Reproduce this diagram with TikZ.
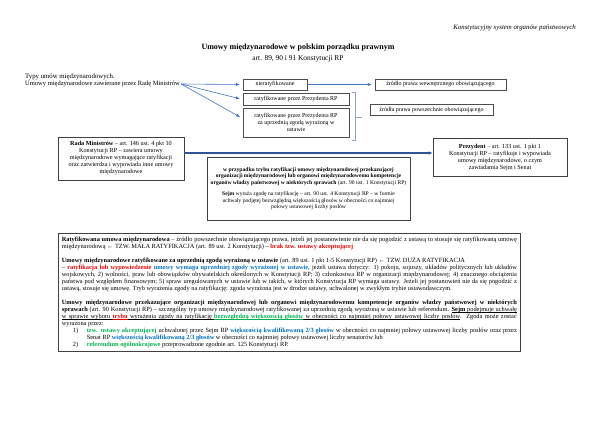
\documentclass[tikz,border=0pt]{standalone}
\usepackage{fontspec}
\setmainfont{Liberation Serif}
\usetikzlibrary{arrows.meta}
\definecolor{rd}{RGB}{230,0,0}
\definecolor{bl}{RGB}{0,112,192}
\definecolor{gr}{RGB}{0,176,80}
\definecolor{arrblue}{RGB}{68,114,196}
\definecolor{darkarr}{RGB}{47,85,151}
\definecolor{brk}{RGB}{150,165,190}
\newcommand{\fsz}[2]{\fontsize{#1}{#2}\selectfont}
\newcommand{\uw}[1]{\setbox0\hbox{#1}\rlap{\rule[-0.9pt]{\wd0}{0.3pt}}\box0}
\newcommand{\us}{\leaders\hrule height -0.6pt depth 0.9pt\hskip 0.25em plus 0.12em minus 0.06em\relax}
\def\ulw#1{\ulx#1 \ulend}
\def\ulx#1 #2\ulend{\uw{#1}\ifx\relax#2\relax\else\us\ulx#2\ulend\fi}
\begin{document}
\begin{tikzpicture}[x=1pt,y=-1pt,
  box/.style={draw=black!70, line width=0.5pt, inner sep=1.5pt, fill=white, align=center, font=\fsz{6}{6.8}},
  shbox/.style={box, draw=black!75, line width=0.7pt, font=\fsz{6.2}{7}},
  arr/.style={draw=arrblue, line width=0.6pt, -{Latex[length=4pt,width=3.2pt]}, shorten >=3pt},
  thickarr/.style={draw=darkarr, line width=1.2pt, -{Latex[length=4pt,width=3.5pt]}},
  plain/.style={inner sep=0pt}]
\useasboundingbox[fill=white] (0,0) rectangle (600,424);

\node[plain, anchor=east, font=\fsz{6.8}{8}\itshape] (hdr) at (576,28) {Konstytucyjny system organów państwowych};
\node[plain, font=\fsz{8}{9}\bfseries] (title) at (298,48) {Umowy międzynarodowe w polskim porządku prawnym};
\node[plain, font=\fsz{7.4}{9}] (sub) at (298,59) {art. 89, 90 i 91 Konstytucji RP};

\node[plain, anchor=west, font=\fsz{6.8}{8}] (types) at (25,77) {Typy umów międzynarodowych.};
\node[plain, anchor=west, font=\fsz{6.5}{8}] (rm) at (25,84) {Umowy międzynarodowe zawierane przez Radę Ministrów};

\node[box, minimum width=64, minimum height=11] (b1) at (275,84.5) {nieratyfikowane};
\node[box, minimum width=106, minimum height=12] (b2) at (296,99.5) {ratyfikowane przez Prezydenta RP};
\node[box, minimum width=106, minimum height=29] (b3) at (296,122.5) {ratyfikowane przez Prezydenta RP\\ za uprzednią zgodą wyrażoną w\\ ustawie};

\node[box, minimum width=131, minimum height=11] (s1) at (440.5,84.5) {źródło prawa wewnętrznego obowiązującego};
\node[box, minimum width=123, minimum height=11] (s2) at (431.5,110) {źródła prawa powszechnie obowiązującego};

\draw[arr] ([xshift=1pt]rm.east) -- (b1.west);
\draw[arr] ([xshift=1pt]rm.east) -- (b2.west);
\draw[arr] ([xshift=1pt]rm.east) -- ([yshift=4pt]b3.west);
\draw[arr] (b1.east) -- (s1.west);

\coordinate (bt) at (352,92);
\coordinate (bb) at (352,140);
\coordinate (bm) at (362,117);
\draw[brk, line width=0.5pt] (bt) -- ++(3.5,0) -- ([xshift=3.5pt]bb) -- (bb);
\draw[brk, line width=0.5pt] (bm -| 355.5,0) -- (bm);

\node[shbox, minimum width=126, minimum height=43] (rada) at (121,158.5)
  {\textbf{Rada Ministrów} – art. 146 ust. 4 pkt 10\\ Konstytucji RP – zawiera umowy\\ międzynarodowe wymagające ratyfikacji\\ oraz zatwierdza i wypowiada inne umowy\\ międzynarodowe};

\node[shbox, minimum width=134, minimum height=38] (prez) at (500,157.5)
  {\textbf{Prezydent} – art. 133 ust. 1 pkt 1\\ Konstytucji RP – ratyfikuje i wypowiada\\ umowy międzynarodowe, o czym\\ zawiadamia Sejm i Senat};

\draw[thickarr] ([yshift=5.5pt]rada.east) -- ([yshift=4.5pt]prez.west);

\node[shbox, minimum width=203, minimum height=63, font=\fsz{5.6}{6.5}] (mid) at (308.5,188.5)
  {\textbf{w przypadku trybu ratyfikacji umowy międzynarodowej przekazującej}\\
   \textbf{organizacji międzynarodowej lub organowi międzynarodowemu kompetencje}\\
   \textbf{organów władzy państwowej w niektórych sprawach} (art. 90 ust. 1 Konstytucji RP)\\[5pt]
   \textbf{Sejm} wyraża zgodę na ratyfikację – art. 90 ust. 4 Konstytucji RP – w formie\\
   uchwały podjętej bezwzględną większością głosów w obecności co najmniej\\
   połowy ustawowej liczby posłów};

\node[shbox, anchor=north west, minimum width=462, minimum height=115, inner sep=3.5pt, text width=455, align=justify, font=\fsz{6.35}{7}] (big) at (58,233)
  {\hyphenpenalty=10000\exhyphenpenalty=10000\emergencystretch=20pt
  \textbf{Ratyfikowana umowa międzynarodowa} – źródło powszechnie obowiązującego prawa, jeżeli jej postanowienie nie da się pogodzić z ustawą to stosuje się ratyfikowaną umowę międzynarodową ← TZW. MAŁA RATYFIKACJA (art. 89 ust. 2 Konstytucji) – \textcolor{rd}{\textbf{brak tzw. ustawy akceptującej}}\par\vspace{7pt}
  \textbf{Umowy międzynarodowe ratyfikowane za uprzednią zgodą wyrażoną w ustawie} (art. 89 ust. 1 pkt 1-5 Konstytucji RP) ← TZW. DUŻA RATYFIKACJA\\
  – \textcolor{rd}{\textbf{ratyfikacja lub wypowiedzenie}} \textcolor{bl}{\textbf{umowy wymaga uprzedniej zgody wyrażonej w ustawie,}} jeżeli ustawa dotyczy: 1) pokoju, sojuszy, układów politycznych lub układów wojskowych, 2) wolności, praw lub obowiązków obywatelskich określonych w Konstytucji RP; 3) członkostwa RP w organizacji międzynarodowej; 4) znacznego obciążenia państwa pod względem finansowym; 5) spraw uregulowanych w ustawie lub w takich, w których Konstytucja RP wymaga ustawy. Jeżeli jej postanowień nie da się pogodzić z ustawą, stosuje się umowę. Tryb wyrażenia zgody na ratyfikację: zgoda wyrażona jest w drodze ustawy, uchwalonej w zwykłym trybie ustawodawczym.\par\vspace{7pt}
  \textbf{Umowy międzynarodowe przekazujące organizacji międzynarodowej lub organowi międzynarodowemu kompetencje organów władzy państwowej w niektórych\linebreak sprawach} (art. 90 Konstytucji RP) – szczególny typ umowy międzynarodowej ratyfikowanej za uprzednią zgodą wyrażoną w ustawie lub referendum. {\bfseries\ulw{Sejm}}\us\ulw{podejmuje uchwałę}\linebreak\ulw{w sprawie wyboru}\us{\bfseries\color{rd}\ulw{trybu}}\us\ulw{wyrażenia zgody na ratyfikację}\us{\bfseries\color{gr}\ulw{bezwzględną większością głosów}}\us\ulw{w obecności co najmniej połowy ustawowej liczby posłów}. Zgoda może zostać\linebreak wyrażona przez:\par
  \hangindent=25pt\hangafter=1\noindent\hspace*{11pt}\makebox[14pt][l]{1)}\textcolor{gr}{\textbf{tzw. ustawy akceptującej}} uchwalonej przez Sejm RP \textcolor{bl}{\textbf{większością kwalifikowaną 2/3 głosów}} w obecności co najmniej połowy ustawowej liczby posłów oraz przez\linebreak Senat RP \textcolor{bl}{\textbf{większością kwalifikowaną 2/3 głosów}} w obecności co najmniej połowy ustawowej liczby senatorów lub\par
  \hangindent=25pt\hangafter=1\noindent\hspace*{11pt}\makebox[14pt][l]{2)}\textcolor{gr}{\textbf{referendum ogólnokrajowe}} przeprowadzone zgodnie art. 125 Konstytucji RP.};
\end{tikzpicture}
\end{document}
